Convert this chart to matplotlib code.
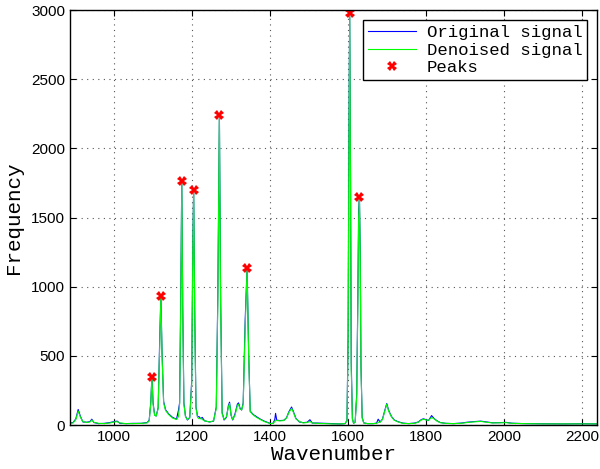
import matplotlib
matplotlib.use("Agg")
import matplotlib.pyplot as plt
import numpy as np

# Data
wavenumber = [887, 895, 902, 908, 914, 920, 930, 938, 943, 948, 960, 975, 990, 1000, 1008, 1015,
              1030, 1050, 1070, 1085, 1090, 1094, 1097, 1100, 1104, 1108, 1113, 1117, 1120, 1123,
              1127, 1132, 1140, 1150, 1160, 1165, 1168, 1171, 1173.5, 1176, 1179, 1183, 1188, 1194,
              1199, 1202, 1204, 1207, 1210, 1214, 1218, 1222, 1226, 1232, 1245, 1255, 1262, 1266,
              1270, 1273, 1277, 1282, 1288, 1293, 1296, 1300, 1304, 1310, 1316, 1319, 1323, 1327,
              1331, 1336, 1341, 1345, 1349, 1357, 1365, 1374, 1385, 1395, 1402, 1408, 1412, 1414,
              1417, 1425, 1435, 1442, 1448, 1455, 1460, 1466, 1475, 1485, 1495, 1502, 1508, 1520,
              1540, 1560, 1580, 1592, 1597, 1600, 1602, 1604, 1606, 1608, 1611, 1614, 1618, 1622,
              1625, 1627, 1629, 1631, 1633, 1636, 1640, 1650, 1665, 1673, 1677, 1682, 1688, 1693,
              1699, 1704, 1711, 1718, 1728, 1740, 1755, 1770, 1780, 1787, 1793, 1800, 1806, 1814,
              1820, 1828, 1836, 1850, 1870, 1890, 1905, 1920, 1940, 1955, 1970, 1990, 2005, 2020,
              2050, 2100, 2150, 2200, 2238]
denoised = [12, 15, 40, 100, 55, 25, 18, 22, 36, 20, 12, 10, 15, 22, 24, 15,
            10, 10, 12, 15, 30, 150, 345, 150, 70, 65, 120, 600, 930, 500,
            160, 105, 75, 50, 40, 60, 150, 900, 1765, 800, 150, 60, 40, 50,
            300, 1300, 1699, 700, 120, 55, 45, 50, 40, 30, 22, 30, 120, 900,
            2238, 900, 80, 40, 60, 130, 155, 70, 40, 70, 140, 150, 115, 110,
            150, 700, 1136, 500, 96, 72, 55, 41, 25, 15, 10, 12, 25, 35,
            32, 30, 32, 50, 90, 120, 90, 45, 25, 15, 18, 25, 15, 12,
            10, 8, 8, 10, 30, 600, 2000, 2976, 1800, 400, 40, 12, 20, 200,
            900, 1500, 1650, 1200, 400, 50, 15, 10, 10, 12, 20, 20, 40, 90,
            150, 100, 60, 35, 22, 12, 10, 12, 20, 35, 42, 36, 34, 55,
            45, 28, 17, 12, 10, 12, 18, 22, 26, 20, 15, 16, 17, 12,
            10, 8, 8, 8, 8]
original = [14, 18, 45, 112, 60, 22, 20, 25, 42, 18, 10, 12, 18, 25, 28, 12,
            10, 12, 12, 18, 35, 160, 350, 160, 72, 65, 125, 620, 932, 520,
            170, 110, 80, 55, 42, 105, 160, 950, 1766, 850, 160, 65, 36, 55,
            320, 1350, 1699, 750, 130, 60, 60, 45, 55, 30, 22, 28, 130, 950,
            2239, 950, 90, 36, 55, 140, 165, 70, 36, 80, 150, 160, 120, 108,
            160, 750, 1137, 520, 100, 75, 60, 44, 28, 17, 10, 14, 40, 84,
            35, 32, 34, 52, 95, 130, 95, 48, 22, 17, 20, 38, 14, 14,
            12, 10, 8, 10, 32, 650, 2100, 2976, 1900, 450, 45, 12, 22, 220,
            950, 1550, 1650, 1250, 420, 55, 15, 10, 10, 14, 42, 22, 42, 95,
            155, 105, 62, 37, 24, 14, 10, 14, 22, 38, 45, 38, 32, 68,
            48, 30, 18, 12, 10, 14, 20, 24, 28, 22, 16, 17, 19, 13,
            10, 9, 8, 9, 8]
peak_x = [1097, 1120, 1173.5, 1204, 1270, 1341, 1604, 1629]
peak_y = [349, 932, 1766, 1699, 2239, 1137, 2976, 1650]

x_ticks = [1000, 1200, 1400, 1600, 1800, 2000, 2200]
y_ticks = [0, 500, 1000, 1500, 2000, 2500, 3000]

fig = plt.figure(figsize=(6.0, 4.69), dpi=100)
ax = fig.add_axes([70 / 600, 44 / 469, 527 / 600, 415 / 469])

ax.plot(wavenumber, original, color=(0, 0, 1), lw=0.8, label="Original signal")
ax.plot(wavenumber, denoised, color=(0, 1, 0), lw=0.8, label="Denoised signal")
ax.plot(peak_x, peak_y, linestyle="none", marker="X", color="red", markersize=7,
        markeredgewidth=0, label="Peaks")

ax.set_xlim(887, 2238)
ax.set_ylim(0, 3000)
ax.set_xticks(x_ticks)
ax.set_yticks(y_ticks)
ax.grid(True, linestyle=(0, (1, 4)), color="#555555", linewidth=0.8)
ax.tick_params(direction="in", top=True, right=True, length=4, width=0.8,
               labelsize=11)
for lab in ax.get_xticklabels() + ax.get_yticklabels():
    lab.set_fontfamily("Liberation Sans")
for sp in ax.spines.values():
    sp.set_linewidth(1.0)

ax.set_xlabel("Wavenumber", fontfamily="Liberation Mono", fontsize=15, labelpad=1)
ax.set_ylabel("Frequency", fontfamily="Liberation Mono", fontsize=15, labelpad=6)

leg = ax.legend(loc="upper right", prop={"family": "Liberation Mono", "size": 12.5},
                fancybox=False, edgecolor="black", framealpha=1, borderpad=0.25,
                labelspacing=0.15, handlelength=2.8, handletextpad=0.6,
                borderaxespad=0.6)
leg.get_frame().set_linewidth(1.0)

fig.savefig("out.png", dpi=100)
